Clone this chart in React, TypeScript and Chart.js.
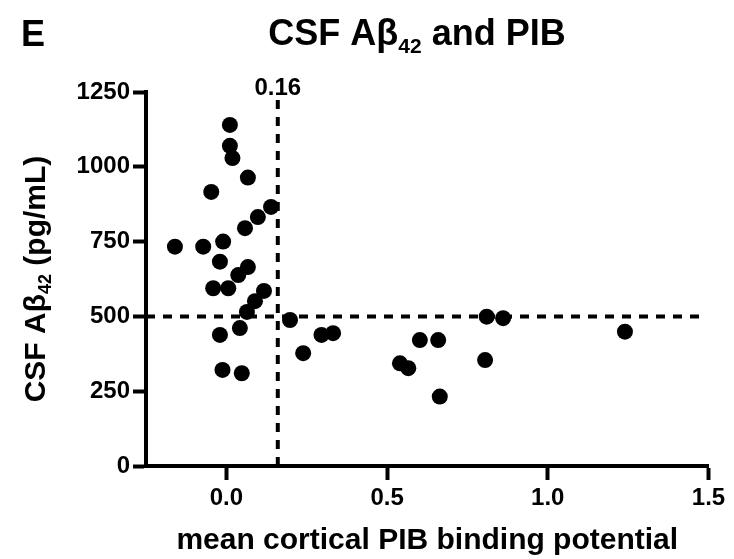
import React, { useEffect, useRef } from "react";
import { Chart, registerables } from "chart.js";

Chart.register(...registerables);

// ---- data ----
const PIB_X = [
  0.011, 0.011, 0.019, 0.067, -0.047, 0.139, 0.098, 0.058, -0.16, -0.072,
  -0.01, -0.02, 0.067, 0.037, -0.041, 0.006, 0.117, 0.089, 0.064, 0.042,
  -0.02, -0.012, 0.048, 0.198, 0.239, 0.296, 0.332, 0.602, 0.659, 0.54,
  0.566, 0.664, 0.81, 0.861, 0.805, 1.24,
];
const ABETA_Y = [
  1140, 1070, 1029, 964, 916, 866, 832, 795, 733, 733,
  750, 683, 665, 638, 594, 594, 585, 551, 515, 461,
  438, 321, 310, 488, 377, 438, 444, 421, 421, 343,
  327, 232, 499, 494, 354, 449,
];
const X_TICKS = [0, 0.5, 1.0, 1.5];
const Y_TICKS = [0, 250, 500, 750, 1000, 1250];
const X_RANGE = [-0.25, 1.5];
const Y_RANGE = [0, 1250];
const PIB_CUTOFF = 0.16;
const ABETA_CUTOFF = 500;
const H_LINE_X = [-0.25, 1.475];
const V_LINE_Y = [0, 1225];
const PANEL_LETTER = "E";
const TITLE_PARTS = ["CSF Aβ", "42", " and PIB"];
const Y_TITLE_PARTS = ["CSF Aβ", "42", " (pg/mL)"];
const X_TITLE = "mean cortical PIB binding potential";
const CUTOFF_LABEL = "0.16";

const FONT = '"Liberation Sans", Arial, Helvetica, sans-serif';

function drawSubText(ctx: CanvasRenderingContext2D, parts: string[], cx: number, y: number, size: number, subSize: number, subDy: number) {
  const widths: number[] = [];
  parts.forEach((p, i) => {
    ctx.font = `bold ${i === 1 ? subSize : size}px ${FONT}`;
    widths.push(ctx.measureText(p).width);
  });
  const total = widths.reduce((a, b) => a + b, 0);
  let x = cx - total / 2;
  ctx.textAlign = "left";
  parts.forEach((p, i) => {
    ctx.font = `bold ${i === 1 ? subSize : size}px ${FONT}`;
    ctx.fillText(p, x, i === 1 ? y + subDy : y);
    x += widths[i];
  });
}

const annotPlugin = {
  id: "annot",
  afterDraw(chart: any) {
    const ctx: CanvasRenderingContext2D = chart.ctx;
    const xs = chart.scales.x;
    const area = chart.chartArea;
    ctx.save();
    ctx.fillStyle = "#000";
    ctx.textBaseline = "alphabetic";
    // panel letter
    ctx.font = `bold 36px ${FONT}`;
    ctx.textAlign = "left";
    ctx.fillText(PANEL_LETTER, 21, 46);
    // title
    drawSubText(ctx, TITLE_PARTS, 417, 45, 36, 21, 8);
    // cutoff label
    ctx.font = `bold 24px ${FONT}`;
    ctx.textAlign = "center";
    ctx.fillText(CUTOFF_LABEL, xs.getPixelForValue(PIB_CUTOFF), 95);
    // y title (rotated)
    ctx.save();
    ctx.translate(45, (area.top + area.bottom) / 2);
    ctx.rotate(-Math.PI / 2);
    drawSubText(ctx, Y_TITLE_PARTS, 0, 0, 30, 18, 6);
    ctx.restore();
    ctx.restore();
  },
};

export default function App() {
  const ref = useRef<HTMLCanvasElement | null>(null);
  useEffect(() => {
    if (!ref.current) return;
    const points = PIB_X.map((x, i) => ({ x, y: ABETA_Y[i] }));
    const tickFont = { family: FONT, size: 24, weight: "bold" as const };
    const chart = new Chart(ref.current, {
      type: "scatter",
      data: {
        datasets: [
          {
            data: points,
            backgroundColor: "#000",
            borderWidth: 0,
            pointRadius: 8,
            order: 0,
          },
          {
            data: [
              { x: H_LINE_X[0], y: ABETA_CUTOFF },
              { x: H_LINE_X[1], y: ABETA_CUTOFF },
            ],
            showLine: true,
            borderColor: "#000",
            borderWidth: 4,
            borderDash: [9, 8],
            pointRadius: 0,
            order: 1,
          } as any,
          {
            data: [
              { x: PIB_CUTOFF, y: V_LINE_Y[0] },
              { x: PIB_CUTOFF, y: V_LINE_Y[1] },
            ],
            showLine: true,
            borderColor: "#000",
            borderWidth: 4,
            borderDash: [9, 8],
            pointRadius: 0,
            order: 1,
          } as any,
        ],
      },
      options: {
        responsive: false,
        animation: false,
        devicePixelRatio: 1,
        layout: { padding: { left: 0, top: 92, right: 25.5, bottom: 0 } },
        plugins: {
          legend: { display: false },
          tooltip: { enabled: false },
          title: { display: false },
        },
        scales: {
          x: {
            type: "linear",
            min: X_RANGE[0],
            max: X_RANGE[1],
            afterBuildTicks: (s: any) => {
              s.ticks = X_TICKS.map((v) => ({ value: v }));
            },
            afterFit: (s: any) => {
              s.height = 93;
            },
            grid: {
              display: true,
              drawOnChartArea: false,
              drawTicks: true,
              tickLength: 14,
              tickWidth: 4,
              tickColor: "#000",
              color: "#000",
            },
            border: { display: true, width: 4, color: "#000" },
            ticks: {
              font: tickFont,
              color: "#000",
              padding: 4,
              autoSkip: false,
              maxRotation: 0,
              callback: (v: any) => Number(v).toFixed(1),
            },
            title: {
              display: true,
              text: X_TITLE,
              color: "#000",
              font: { family: FONT, size: 30, weight: "bold" },
              padding: { top: 0, bottom: 0 },
            },
          },
          y: {
            type: "linear",
            min: Y_RANGE[0],
            max: Y_RANGE[1],
            afterBuildTicks: (s: any) => {
              s.ticks = Y_TICKS.map((v) => ({ value: v }));
            },
            afterFit: (s: any) => {
              s.width = 146;
            },
            grid: {
              display: true,
              drawOnChartArea: false,
              drawTicks: true,
              tickLength: 13,
              tickWidth: 4,
              tickColor: "#000",
              color: "#000",
            },
            border: { display: true, width: 4, color: "#000" },
            ticks: {
              font: tickFont,
              color: "#000",
              padding: 3,
              autoSkip: false,
              callback: (v: any) => String(v),
            },
          },
        },
      },
      plugins: [annotPlugin],
    });
    return () => chart.destroy();
  }, []);
  return (
    <div style={{ position: "fixed", left: 0, top: 0, width: 734, height: 559, background: "#fff" }}>
      <canvas ref={ref} width={734} height={559} style={{ display: "block" }} />
    </div>
  );
}
